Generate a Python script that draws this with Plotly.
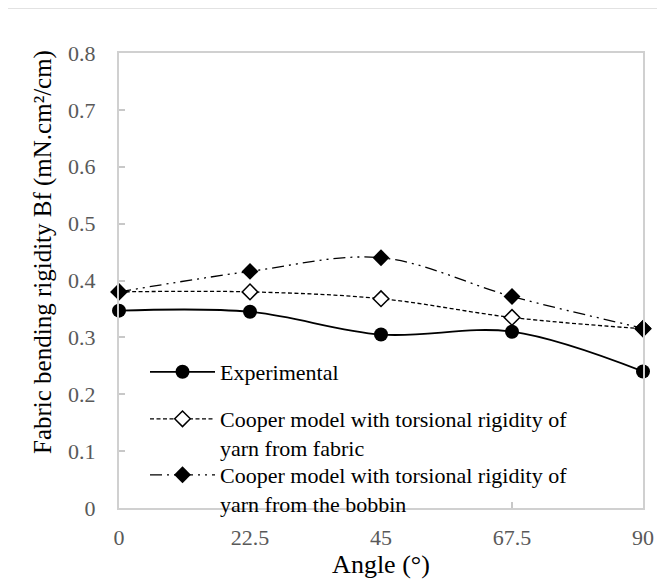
import plotly.graph_objects as go

angles = [0, 22.5, 45, 67.5, 90]
experimental = [0.347, 0.345, 0.305, 0.310, 0.240]
cooper_fabric = [0.380, 0.380, 0.368, 0.335, 0.315]
cooper_bobbin = [0.380, 0.416, 0.440, 0.372, 0.316]

x_ticks = [0, 22.5, 45, 67.5, 90]
x_tick_labels = ["0", "22.5", "45", "67.5", "90"]
y_ticks = [0, 0.1, 0.2, 0.3, 0.4, 0.5, 0.6, 0.7, 0.8]
y_tick_labels = ["0", "0.1", "0.2", "0.3", "0.4", "0.5", "0.6", "0.7", "0.8"]

name_exp = "Experimental"
name_fab = "Cooper model with torsional rigidity of<br>yarn from fabric"
name_bob = "Cooper model with torsional rigidity of<br>yarn from the bobbin"

FONT = "Liberation Serif, Times New Roman, serif"

fig = go.Figure()
fig.add_trace(go.Scatter(
    x=angles, y=experimental, name=name_exp, mode="lines+markers",
    line=dict(color="black", width=1.8, shape="spline", smoothing=1.0),
    marker=dict(symbol="circle", size=14, color="black"),
    cliponaxis=False, legend="legend", showlegend=True,
))
fig.add_trace(go.Scatter(
    x=angles, y=cooper_fabric, name=name_fab, mode="lines+markers",
    line=dict(color="black", width=1.3, dash="4px,2.5px", shape="spline", smoothing=1.0),
    marker=dict(symbol="diamond", size=12, color="white", line=dict(color="black", width=1.5)),
    cliponaxis=False, legend="legend2", showlegend=True,
))
fig.add_trace(go.Scatter(
    x=angles, y=cooper_bobbin, name=name_bob, mode="lines+markers",
    line=dict(color="black", width=1.3, dash="12px,5px,2px,5px,2px,5px", shape="spline", smoothing=1.0),
    marker=dict(symbol="diamond", size=13, color="black"),
    cliponaxis=False, legend="legend3", showlegend=True,
))

axis_common = dict(
    showgrid=False, zeroline=False, showline=True, mirror=True,
    linecolor="#d0d0d0", linewidth=2,
    ticks="inside", ticklen=6, tickcolor="#c8c8c8", tickwidth=1.5,
    tickfont=dict(family=FONT, size=22, color="#595959"),
)

fig.update_xaxes(
    range=[0, 90], tickvals=x_ticks, ticktext=x_tick_labels,
    ticklabelstandoff=9,
    title=dict(text="Angle (°)", font=dict(family=FONT, size=26, color="black"), standoff=1),
    **axis_common,
)
fig.update_yaxes(
    range=[0, 0.8], tickvals=y_ticks, ticktext=y_tick_labels,
    ticklabelstandoff=17,
    **axis_common,
)

OFF = 8  # page body margin
W, H = 665 - OFF, 583 - OFF
L, R, T, B = 119 - OFF, 22, 53 - OFF, 75
pw, ph = W - L - R, H - T - B

def px_x(p):
    return (p - OFF - L) / pw

def px_y(p):
    return (H - B - (p - OFF)) / ph

legend_font = dict(family=FONT, size=22, color="black")
leg_common = dict(xanchor="left", yanchor="top", bgcolor="rgba(0,0,0,0)",
                  font=legend_font, valign="top", itemwidth=65)
LX = px_x(145)
fig.update_layout(
    width=W, height=H,
    margin=dict(l=L, r=R, t=T, b=B),
    paper_bgcolor="white", plot_bgcolor="white",
    font=dict(family=FONT, color="black"),
    showlegend=True,
    legend=dict(x=LX, y=px_y(351), **leg_common),
    legend2=dict(x=LX, y=px_y(398), **leg_common),
    legend3=dict(x=LX, y=px_y(454), **leg_common),
    annotations=[dict(
        text="Fabric bending rigidity Bf (mN.cm²/cm)", textangle=-90,
        xref="paper", yref="paper", x=px_x(43), y=px_y(252),
        xanchor="center", yanchor="middle", showarrow=False,
        font=dict(family=FONT, size=25, color="black"),
    )],
    shapes=[
        dict(type="line", xref="paper", yref="paper", x0=px_x(7), x1=px_x(680),
             y0=px_y(8), y1=px_y(8), line=dict(color="#d9d9d9", width=1.5), layer="below"),
        dict(type="line", xref="paper", yref="paper", x0=px_x(7), x1=px_x(7),
             y0=px_y(8), y1=px_y(620), line=dict(color="#d9d9d9", width=1.5), layer="below"),
    ],
)

fig.write_html("out.html")
